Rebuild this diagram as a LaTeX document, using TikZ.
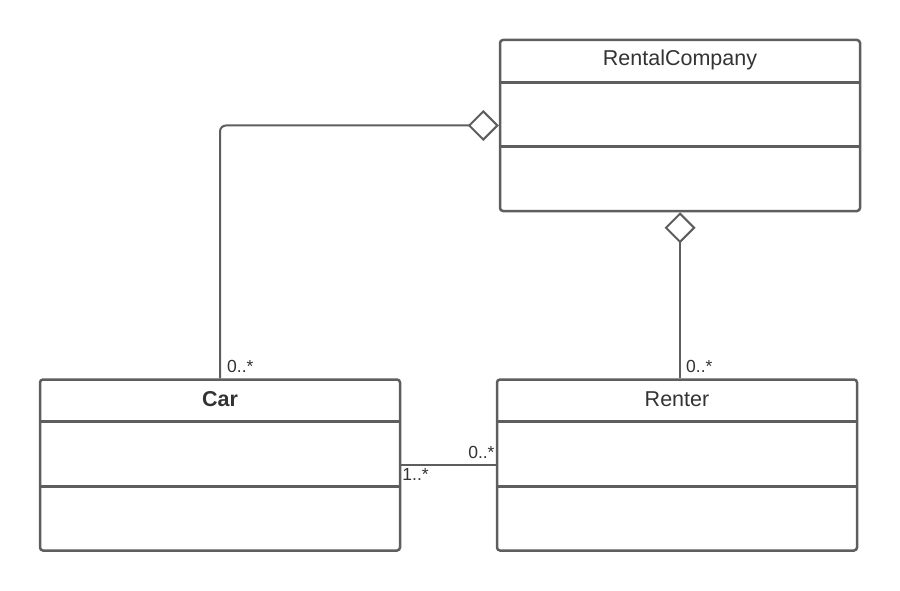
\documentclass[tikz,border=0pt]{standalone}
\usepackage{fontspec}
\setmainfont{Liberation Sans}
\usepackage{xcolor}
\usetikzlibrary{arrows.meta, positioning, calc}
\definecolor{umlline}{HTML}{5E5E5E}
\definecolor{umltext}{HTML}{333333}

\begin{document}
\begin{tikzpicture}[x=1pt, y=-1pt,
                cls/.style={draw=umlline, line width=2.5pt, rounded corners=3pt, minimum width=360pt, minimum height=171pt, inner sep=0pt},
                title/.style={text=umltext, font=\fontsize{21.5}{25}\selectfont},
                mult/.style={text=umltext, font=\fontsize{17.5}{20}\selectfont, inner sep=1pt},
                sep/.style={umlline, line width=2.5pt},
                agg/.style={umlline, line width=2pt, rounded corners=6pt, -{Diamond[open, length=31pt, width=31pt]}},
                assoc/.style={umlline, line width=2pt},
            ]
                \useasboundingbox (0,0) rectangle (900,591);

                % Classes
                \node[cls] (rc) at (680,125.5) {};
                \node[cls] (car) at (220,465) {};
                \node[cls] (renter) at (677,465) {};

                % Compartments
                \foreach \c/\d in {rc/44, rc/108, car/43, car/108, renter/43, renter/108}
                    \draw[sep] ([yshift=-\d pt]\c.north west) -- ([yshift=-\d pt]\c.north east);

                % Class names
                \node[title] (rctitle) at ([yshift=-21pt]rc.north) {RentalCompany};
                \node[title, font=\fontsize{21.5}{25}\selectfont\bfseries] (cartitle) at ([yshift=-21pt]car.north) {Car};
                \node[title] (rentertitle) at ([yshift=-21pt]renter.north) {Renter};

                % Aggregations
                \draw[agg] (car.north) |- (rc.west);
                \draw[agg] (renter.north -| rc.south) -- (rc.south);

                % Association between car and renter
                \draw[assoc] (car.east) -- (car.east -| renter.west);

                % Multiplicities
                \node[mult, anchor=south west] (mcar) at ([xshift=6pt, yshift=4pt]car.north) {0..*};
                \node[mult, anchor=south west] (mrenter) at ([xshift=8pt, yshift=4pt]renter.north) {0..*};
                \node[mult, anchor=north west] (mcarr) at ([yshift=-2pt]car.east) {1..*};
                \node[mult, anchor=south east] (mrentc) at ([yshift=5pt]car.east -| renter.west) {0..*};
            \end{tikzpicture}
\end{document}
